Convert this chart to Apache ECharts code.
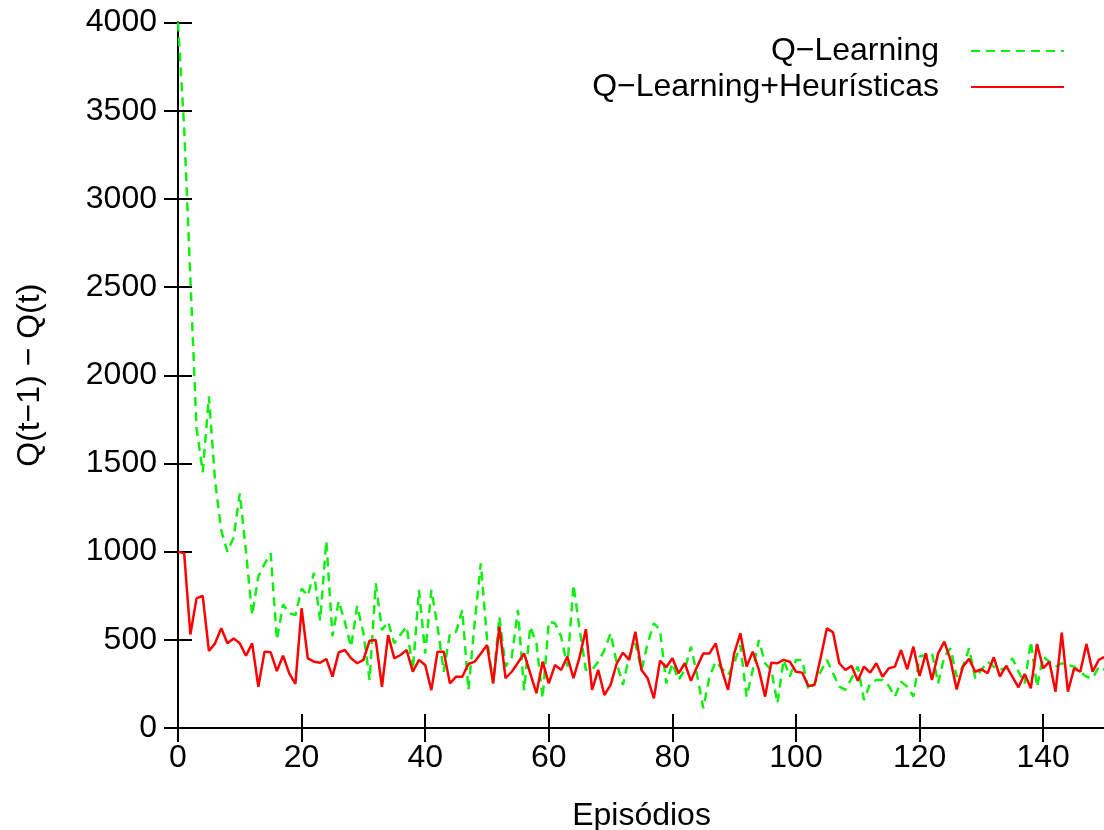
<!DOCTYPE html>
<html>
<head>
<meta charset="utf-8">
<script src="https://cdn.jsdelivr.net/npm/echarts@6/dist/echarts.min.js"></script>
<style>
  html, body { margin: 0; padding: 0; background: #fff; }
  #chart { width: 1104px; height: 830px; }
</style>
</head>
<body>
<div id="chart"></div>
<script>
// episodios 0..150
var episodios = Array.from({ length: 151 }, function (_, i) { return i; });

// Q-Learning (verde, tracejado)
var qLearning = [
    4000, 3400, 2550, 1700, 1450, 1880, 1400, 1120, 1000, 1080,
    1330, 1000, 640, 860, 930, 990, 500, 700, 650, 640,
    790, 750, 880, 610, 1060, 520, 720, 600, 460, 692,
    540, 272, 820, 556, 603, 480, 530, 575, 329, 783,
    423, 783, 575, 319, 537, 546, 669, 215, 594, 934,
    508, 253, 631, 348, 400, 669, 215, 575, 480, 168,
    603, 594, 518, 348, 811, 556, 329, 329, 376, 442,
    537, 367, 244, 405, 480, 329, 480, 594, 556, 253,
    367, 272, 330, 461, 300, 112, 291, 376, 338, 300,
    367, 470, 178, 329, 499, 367, 329, 140, 386, 291,
    386, 386, 216, 253, 320, 386, 310, 234, 216, 282,
    348, 159, 253, 272, 272, 240, 178, 263, 234, 178,
    405, 414, 427, 253, 405, 452, 291, 348, 452, 282,
    329, 376, 348, 329, 340, 395, 320, 253, 490, 234,
    405, 376, 348, 367, 357, 348, 319, 291, 282, 348,
    329
];

// Q-Learning+Heuristicas (vermelho)
var qHeuristicas = [
    1000, 990, 530, 735, 749, 437, 480, 565, 480, 508,
    480, 410, 480, 234, 433, 429, 323, 410, 310, 250,
    679, 395, 376, 370, 391, 291, 429, 442, 395, 367,
    386, 495, 499, 234, 527, 395, 414, 442, 319, 386,
    357, 215, 433, 433, 253, 291, 291, 363, 376, 423,
    471, 253, 575, 282, 319, 370, 423, 310, 197, 376,
    253, 357, 329, 405, 282, 405, 560, 216, 329, 187,
    244, 367, 427, 386, 546, 329, 282, 168, 382, 344,
    395, 310, 367, 268, 348, 423, 423, 480, 329, 216,
    423, 537, 348, 433, 329, 178, 370, 367, 386, 376,
    319, 314, 238, 244, 400, 565, 542, 367, 329, 352,
    268, 348, 314, 367, 291, 338, 348, 442, 333, 461,
    295, 423, 272, 423, 490, 386, 219, 348, 392, 319,
    333, 310, 401, 291, 352, 291, 231, 306, 225, 476,
    338, 376, 206, 541, 206, 338, 319, 476, 319, 386,
    405
];

var nomes = ['Q\u2212Learning', 'Q\u2212Learning+Heur\u00edsticas'];

var fonte = '"Liberation Sans", Arial, sans-serif';
var tamFonte = 32;

function pares(valores) {
    return valores.map(function (v, i) { return [episodios[i], v]; });
}

var linhaEixo = { show: true, lineStyle: { color: '#000', width: 2 } };
var tickEixo = { show: true, inside: true, length: 14, lineStyle: { color: '#000', width: 2 } };
var rotulo = { color: '#000', fontFamily: fonte, fontSize: tamFonte };

function legenda(nome, topo) {
    return {
        data: [nome],
        right: 39,
        top: topo,
        padding: 0,
        align: 'right',
        itemWidth: 93,
        itemHeight: 14,
        itemStyle: { opacity: 0 },
        textStyle: { color: '#000', fontFamily: fonte, fontSize: tamFonte, padding: [0, 27, 0, 0] }
    };
}

var myChart = echarts.init(document.getElementById('chart'));

var option = {
    animation: false,
    backgroundColor: '#fff',
    textStyle: { fontFamily: fonte },
    grid: { left: 178, top: 22.5, width: 927, height: 705.5, outerBoundsMode: 'none' },
    legend: [legenda(nomes[0], 35), legenda(nomes[1], 71)],
    xAxis: [
        {
            type: 'value', min: 0, max: 150, interval: 20, position: 'bottom',
            axisLine: linhaEixo, axisTick: tickEixo, splitLine: { show: false },
            axisLabel: Object.assign({ margin: 14, showMaxLabel: false }, rotulo),
            name: 'Epis\u00f3dios', nameLocation: 'middle', nameGap: 72,
            nameTextStyle: rotulo
        },
        {
            type: 'value', min: 0, max: 150, interval: 20, position: 'top',
            axisLine: linhaEixo, axisTick: tickEixo, splitLine: { show: false },
            axisLabel: { show: false }
        }
    ],
    yAxis: [
        {
            type: 'value', min: 0, max: 4000, interval: 500, position: 'left',
            axisLine: linhaEixo, axisTick: tickEixo, splitLine: { show: false },
            axisLabel: Object.assign({ margin: 21, formatter: function (v) { return String(v); } }, rotulo),
            name: 'Q(t\u22121) \u2212 Q(t)', nameLocation: 'middle', nameGap: 132, nameRotate: 90,
            nameTextStyle: rotulo
        },
        {
            type: 'value', min: 0, max: 4000, interval: 500, position: 'right',
            axisLine: linhaEixo, axisTick: tickEixo, splitLine: { show: false },
            axisLabel: { show: false }
        }
    ],
    series: [
        {
            name: nomes[0],
            type: 'line',
            data: pares(qLearning),
            symbol: 'none',
            lineStyle: { color: '#11ee11', width: 2.5, type: [9, 6] },
            itemStyle: { color: '#11ee11' }
        },
        {
            name: nomes[1],
            type: 'line',
            data: pares(qHeuristicas),
            symbol: 'none',
            lineStyle: { color: '#ff0000', width: 2.5 },
            itemStyle: { color: '#ff0000' }
        }
    ]
};

myChart.setOption(option);
</script>
</body>
</html>
